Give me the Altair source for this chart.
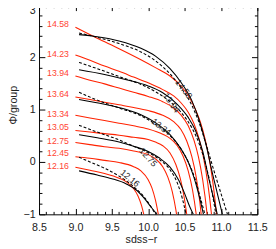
import altair as alt
import pandas as pd

W, H = 225, 216

groups = ["12.16", "12.45", "12.75", "13.05", "13.34", "13.64", "13.94", "14.23", "14.58"]

# red model curves
r1216_x = [9.0, 9.2, 9.4, 9.6, 9.7, 9.8, 9.86, 9.91, 9.96]
r1216_y = [-0.10, -0.16, -0.22, -0.31, -0.38, -0.51, -0.65, -0.84, -1.13]
r1245_x = [9.0, 9.2, 9.4, 9.6, 9.8, 9.9, 10.0, 10.05, 10.1, 10.15]
r1245_y = [0.10, 0.07, 0.03, -0.01, -0.09, -0.17, -0.34, -0.49, -0.73, -1.08]
r1275_x = [9.0, 9.2, 9.4, 9.6, 9.8, 10.0, 10.1, 10.2, 10.27, 10.33, 10.38, 10.42]
r1275_y = [0.37, 0.33, 0.29, 0.26, 0.21, 0.14, 0.06, -0.09, -0.29, -0.56, -0.91, -1.31]
r1305_x = [9.0, 9.2, 9.4, 9.6, 9.8, 10.0, 10.1, 10.2, 10.3, 10.38, 10.44, 10.49, 10.53, 10.56]
r1305_y = [0.60, 0.57, 0.54, 0.51, 0.47, 0.43, 0.38, 0.31, 0.17, -0.05, -0.31, -0.64, -1.0, -1.36]
r1334_x = [9.0, 9.2, 9.4, 9.6, 9.8, 10.0, 10.2, 10.3, 10.4, 10.48, 10.55, 10.61, 10.66, 10.69]
r1334_y = [0.89, 0.84, 0.79, 0.74, 0.69, 0.63, 0.53, 0.45, 0.31, 0.11, -0.17, -0.54, -1.0, -1.36]
r1364_x = [9.0, 9.2, 9.4, 9.6, 9.8, 10.0, 10.2, 10.35, 10.45, 10.53, 10.6, 10.66, 10.7, 10.74]
r1364_y = [1.24, 1.19, 1.14, 1.09, 1.04, 0.98, 0.89, 0.77, 0.62, 0.40, 0.10, -0.29, -0.66, -1.14]
r1394_x = [9.0, 9.2, 9.4, 9.6, 9.8, 10.0, 10.2, 10.35, 10.45, 10.55, 10.63, 10.69, 10.75, 10.81, 10.84]
r1394_y = [1.64, 1.56, 1.49, 1.41, 1.33, 1.25, 1.15, 1.03, 0.90, 0.69, 0.41, 0.10, -0.35, -1.0, -1.43]
r1423_x = [9.0, 9.2, 9.4, 9.6, 9.8, 10.0, 10.2, 10.35, 10.45, 10.55, 10.63, 10.7, 10.76, 10.82, 10.87, 10.9]
r1423_y = [2.04, 1.94, 1.83, 1.73, 1.62, 1.51, 1.38, 1.26, 1.13, 0.95, 0.73, 0.44, 0.08, -0.42, -1.0, -1.44]
r1458_x = [9.0, 9.3, 9.6, 9.9, 10.1, 10.3, 10.45, 10.55, 10.65, 10.72, 10.78, 10.84, 10.89, 10.94, 10.97]
r1458_y = [2.57, 2.36, 2.16, 1.95, 1.80, 1.64, 1.45, 1.27, 1.00, 0.75, 0.45, 0.05, -0.40, -1.0, -1.45]

# black solid curves
s1216_x = [9.05, 9.3, 9.5, 9.7, 9.85, 9.95, 10.05, 10.12]
s1216_y = [-0.17, -0.25, -0.32, -0.42, -0.55, -0.70, -0.88, -1.0]
s1275_x = [9.05, 9.3, 9.6, 9.8, 10.0, 10.15, 10.3, 10.42, 10.5, 10.57, 10.62]
s1275_y = [0.52, 0.46, 0.38, 0.30, 0.20, 0.08, -0.10, -0.35, -0.60, -0.85, -1.0]
s1334_x = [9.05, 9.4, 9.7, 9.9, 10.1, 10.3, 10.45, 10.55, 10.63, 10.7, 10.76]
s1334_y = [1.19, 1.10, 1.00, 0.90, 0.75, 0.52, 0.25, 0.0, -0.30, -0.65, -1.0]
s1394_x = [9.05, 9.4, 9.7, 10.0, 10.2, 10.4, 10.55, 10.65, 10.75, 10.83, 10.9, 10.95]
s1394_y = [1.76, 1.67, 1.57, 1.45, 1.32, 1.10, 0.85, 0.60, 0.20, -0.30, -0.70, -1.0]
s1458_x = [9.05, 9.3, 9.6, 9.9, 10.1, 10.3, 10.45, 10.6, 10.7, 10.8, 10.88, 10.95, 11.02]
s1458_y = [2.43, 2.39, 2.31, 2.17, 2.02, 1.78, 1.52, 1.17, 0.80, 0.30, -0.20, -0.60, -1.0]

# black dashed curves
d1216_x = [9.05, 9.2, 9.4, 9.6, 9.8, 9.95, 10.05, 10.1]
d1216_y = [0.09, 0.0, -0.12, -0.27, -0.47, -0.68, -0.88, -1.0]
d1275_x = [9.05, 9.3, 9.6, 9.8, 10.0, 10.15, 10.3, 10.4, 10.47, 10.52]
d1275_y = [0.70, 0.57, 0.42, 0.30, 0.18, 0.05, -0.15, -0.40, -0.70, -1.0]
d1334_x = [9.05, 9.3, 9.6, 9.9, 10.1, 10.3, 10.45, 10.55, 10.65, 10.72, 10.78]
d1334_y = [1.33, 1.18, 1.03, 0.88, 0.72, 0.50, 0.25, 0.0, -0.35, -0.70, -1.0]
d1394_x = [9.05, 9.3, 9.6, 9.9, 10.1, 10.3, 10.45, 10.6, 10.7, 10.8, 10.88, 10.93]
d1394_y = [1.90, 1.78, 1.63, 1.48, 1.34, 1.15, 0.95, 0.65, 0.35, -0.10, -0.60, -1.0]
d1458_x = [9.05, 9.3, 9.6, 9.9, 10.1, 10.3, 10.45, 10.6, 10.7, 10.8, 10.9, 11.0, 11.09]
d1458_y = [2.46, 2.38, 2.26, 2.10, 1.93, 1.68, 1.42, 1.08, 0.75, 0.32, -0.15, -0.60, -1.0]

# labels
red_label_x = 8.61
red_label_y = [-0.07, 0.16, 0.39, 0.67, 0.92, 1.30, 1.70, 2.06, 2.64]
blk_labels = ["12.16", "12.75", "13.34", "13.94", "14.58"]
blk_label_x = [9.75, 10.0, 10.18, 10.32, 10.49]
blk_label_y = [-0.31, 0.09, 0.67, 1.13, 1.39]
blk_label_angle = [40, 48, 38, 55, 52]

x_ticks = [8.5, 8.6, 8.7, 8.8, 8.9, 9.0, 9.1, 9.2, 9.3, 9.4, 9.5, 9.6, 9.7, 9.8, 9.9, 10.0,
           10.1, 10.2, 10.3, 10.4, 10.5, 10.6, 10.7, 10.8, 10.9, 11.0, 11.1, 11.2, 11.3, 11.4, 11.5]
y_ticks = [-1.0, -0.8, -0.6, -0.4, -0.2, 0.0, 0.2, 0.4, 0.6, 0.8, 1.0, 1.2, 1.4, 1.6, 1.8,
           2.0, 2.2, 2.4, 2.6, 2.8, 3.0]


def frame(pairs):
    rows = []
    for g, xs, ys in pairs:
        for xv, yv in zip(xs, ys):
            rows.append({"g": g, "x": xv, "y": yv})
    return pd.DataFrame(rows)


red_df = frame([
    ("12.16", r1216_x, r1216_y), ("12.45", r1245_x, r1245_y), ("12.75", r1275_x, r1275_y),
    ("13.05", r1305_x, r1305_y), ("13.34", r1334_x, r1334_y), ("13.64", r1364_x, r1364_y),
    ("13.94", r1394_x, r1394_y), ("14.23", r1423_x, r1423_y), ("14.58", r1458_x, r1458_y),
])
solid_df = frame([
    ("12.16", s1216_x, s1216_y), ("12.75", s1275_x, s1275_y), ("13.34", s1334_x, s1334_y),
    ("13.94", s1394_x, s1394_y), ("14.58", s1458_x, s1458_y),
])
dash_df = frame([
    ("12.16", d1216_x, d1216_y), ("12.75", d1275_x, d1275_y), ("13.34", d1334_x, d1334_y),
    ("13.94", d1394_x, d1394_y), ("14.58", d1458_x, d1458_y),
])
red_lab_df = pd.DataFrame({"t": groups, "x": [red_label_x] * len(groups), "y": red_label_y})
blk_lab_df = pd.DataFrame({"t": blk_labels, "x": blk_label_x, "y": blk_label_y, "a": blk_label_angle})

FONT = "Liberation Sans"
xs = alt.Scale(domain=[8.5, 11.5], nice=False, zero=False)
ys = alt.Scale(domain=[-1, 3], nice=False, zero=False)

MAJ_X = "abs(datum.value*2 - round(datum.value*2)) < 0.001"
MAJ_Y = "abs(datum.value - round(datum.value)) < 0.001"

# label axes (placed on bottom / left edges with inward ticks)
x_axis_a = alt.Axis(
    orient="top", offset=-H, values=x_ticks, domain=False, grid=False,
    tickColor="black", tickWidth=1,
    tickSize={"condition": {"test": MAJ_X, "value": 6}, "value": 3},
    labelExpr=f"{MAJ_X} ? format(datum.value, '.1f') : ''",
    labelBaseline="middle", labelPadding=-20, labelFontSize=11, labelFont=FONT,
    labelColor="#222", labelOverlap=False, labelFlush=False, labelBound=False,
    title="sdss\u2212r", titleFont=FONT, titleFontSize=11, titleFontWeight="normal",
    titleColor="#222", titleX=105, titleY=26, titleBaseline="middle", titleAlign="center",
    titleAnchor="start",
)
y_axis_a = alt.Axis(
    orient="right", offset=-W, values=y_ticks, domain=False, grid=False,
    tickColor="black", tickWidth=1,
    tickSize={"condition": {"test": MAJ_Y, "value": 6}, "value": 3},
    labelExpr=f"{MAJ_Y} ? format(round(datum.value), 'd') : ''",
    labelAlign="right",
    labelBaseline={"condition": {"test": "datum.value > 2.9", "value": "top"}, "value": "middle"},
    labelPadding=-10, labelFontSize=11,
    labelFont=FONT, labelColor="#222", labelOverlap=False, labelFlush=False, labelBound=False,
    title="\u03a6/group", titleFont=FONT, titleFontSize=11, titleFontWeight="normal",
    titleColor="#222", titleAngle=270, titleX=-26, titleY=103, titleBaseline="middle",
    titleAlign="center", titleAnchor="start",
)
# tick-only axes for top / right edges
x_axis_b = alt.Axis(
    orient="bottom", offset=-H, values=x_ticks, domain=False, grid=False, labels=False,
    tickColor="black", tickWidth=1,
    tickSize={"condition": {"test": MAJ_X, "value": 6}, "value": 3}, title=None,
)
y_axis_b = alt.Axis(
    orient="left", offset=-W, values=y_ticks, domain=False, grid=False, labels=False,
    tickColor="black", tickWidth=1,
    tickSize={"condition": {"test": MAJ_Y, "value": 6}, "value": 3}, title=None,
)

red = alt.Chart(red_df).mark_line(
    color="#ff2200", strokeWidth=1.1, clip=True, interpolate="monotone"
).encode(
    x=alt.X("x:Q", scale=xs, axis=x_axis_a),
    y=alt.Y("y:Q", scale=ys, axis=y_axis_a),
    detail="g:N",
)
solid = alt.Chart(solid_df).mark_line(
    color="black", strokeWidth=1.1, clip=True, interpolate="monotone"
).encode(
    x=alt.X("x:Q", scale=xs, axis=x_axis_b),
    y=alt.Y("y:Q", scale=ys, axis=y_axis_b),
    detail="g:N",
)
dashed = alt.Chart(dash_df).mark_line(
    color="black", strokeWidth=1.1, strokeDash=[3, 2], clip=True, interpolate="monotone"
).encode(
    x=alt.X("x:Q", scale=xs, axis=None),
    y=alt.Y("y:Q", scale=ys, axis=None),
    detail="g:N",
)
red_text = alt.Chart(red_lab_df).mark_text(
    align="left", baseline="middle", color="#ff4433", fontSize=9, font=FONT
).encode(
    x=alt.X("x:Q", scale=xs, axis=None),
    y=alt.Y("y:Q", scale=ys, axis=None),
    text="t:N",
)
blk_text = alt.Chart(blk_lab_df).mark_text(
    align="center", baseline="middle", color="#222", fontSize=9, font=FONT
).encode(
    x=alt.X("x:Q", scale=xs, axis=None),
    y=alt.Y("y:Q", scale=ys, axis=None),
    text="t:N",
    angle=alt.Angle("a:Q", scale=None),
)

chart = alt.layer(red, solid, dashed, red_text, blk_text).properties(
    width=W, height=H,
    autosize=alt.AutoSizeParams(type="none"),
    padding={"left": 32, "top": -7, "right": 11, "bottom": 30},
).configure_view(stroke="black", strokeWidth=1)

chart.save("out.html", embed_options={"renderer": "svg", "actions": False})
